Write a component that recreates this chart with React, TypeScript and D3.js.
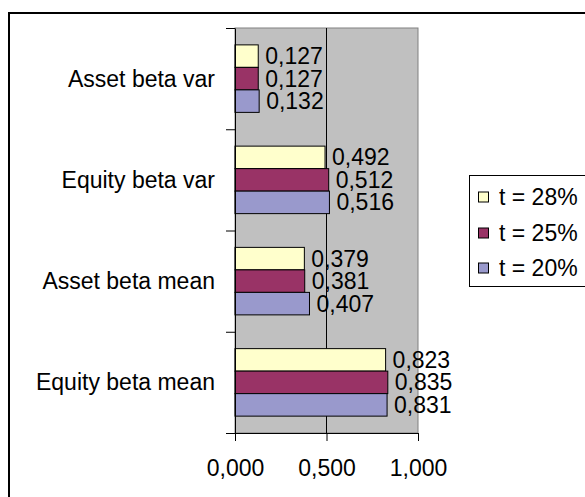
import React, { useEffect, useRef } from 'react';
import * as d3 from 'd3';

// categories top to bottom
const categories = ['Asset beta var', 'Equity beta var', 'Asset beta mean', 'Equity beta mean'];
const seriesNames = ['t = 28%', 't = 25%', 't = 20%'];
const t28 = [0.127, 0.492, 0.379, 0.823];
const t25 = [0.127, 0.512, 0.381, 0.835];
const t20 = [0.132, 0.516, 0.407, 0.831];
const xTicks = [0, 0.5, 1];
const colors = ['#FFFFCC', '#993366', '#9999CC'];

const FONT = '"Liberation Sans", Arial, sans-serif';
const fmt = (v: number) => d3.format('.3f')(v).replace('.', ',');

const App: React.FC = () => {
  const svgRef = useRef<SVGSVGElement>(null);

  useEffect(() => {
    if (!svgRef.current) return;
    const svg = d3.select(svgRef.current);
    svg.selectAll('*').remove();

    const left = 235, right = 418, top = 28, bottom = 433;
    const series = [t28, t25, t20];

    const x = d3.scaleLinear().domain([0, 1]).range([left, right]);
    const y = d3.scaleBand<string>().domain(categories).range([top, bottom]).padding(0);
    const inner = d3.scaleBand<number>()
      .domain([0, 1, 2])
      .range([0, y.bandwidth()])
      .paddingInner(0)
      .paddingOuter(0.75);

    // outer frame
    svg.append('rect')
      .attr('x', 9).attr('y', 13)
      .attr('width', 600).attr('height', 520)
      .attr('fill', 'white')
      .attr('stroke', 'black')
      .attr('stroke-width', 2);

    // plot area
    svg.append('rect')
      .attr('x', left).attr('y', top)
      .attr('width', right - left).attr('height', bottom - top)
      .attr('fill', '#C0C0C0')
      .attr('stroke', '#808080')
      .attr('stroke-width', 1);

    // gridline
    svg.append('line')
      .attr('x1', x(0.5)).attr('x2', x(0.5))
      .attr('y1', top).attr('y2', bottom)
      .attr('stroke', 'black')
      .attr('stroke-width', 1);

    // bars
    series.forEach((vals, si) => {
      const g = svg.append('g');
      g.selectAll('rect')
        .data(vals)
        .join('rect')
        .attr('x', x(0))
        .attr('y', (_, i) => (y(categories[i]) as number) + (inner(si) as number))
        .attr('width', d => x(d) - x(0))
        .attr('height', inner.bandwidth())
        .attr('fill', colors[si])
        .attr('stroke', 'black')
        .attr('stroke-width', 1);
      g.selectAll('text')
        .data(vals)
        .join('text')
        .attr('x', d => x(d) + 7)
        .attr('y', (_, i) => (y(categories[i]) as number) + (inner(si) as number) + inner.bandwidth() / 2)
        .attr('dominant-baseline', 'central')
        .attr('font-family', FONT)
        .attr('font-size', 23)
        .attr('fill', 'black')
        .text(d => fmt(d));
    });

    // left axis: ticks at band boundaries
    const yIdx = d3.scaleLinear().domain([0, categories.length]).range([top, bottom]);
    const yAxis = svg.append('g')
      .attr('transform', `translate(${left},0)`)
      .call(d3.axisLeft(yIdx).tickValues(d3.range(categories.length + 1)).tickSize(9).tickSizeOuter(0).tickFormat(() => ''));
    yAxis.selectAll('line, path').attr('stroke', 'black');

    // category labels
    svg.append('g')
      .selectAll('text')
      .data(categories)
      .join('text')
      .attr('x', 215)
      .attr('y', d => (y(d) as number) + y.bandwidth() / 2)
      .attr('text-anchor', 'end')
      .attr('dominant-baseline', 'central')
      .attr('font-family', FONT)
      .attr('font-size', 23)
      .text(d => d);

    // bottom axis
    const xAxis = svg.append('g')
      .attr('transform', `translate(0,${bottom})`)
      .call(d3.axisBottom(x).tickValues(xTicks).tickSize(8).tickSizeOuter(0).tickPadding(19).tickFormat(d => fmt(d as number)));
    xAxis.selectAll('line, path').attr('stroke', 'black');
    xAxis.selectAll('text')
      .attr('font-family', FONT)
      .attr('font-size', 23)
      .attr('fill', 'black');

    // legend
    const lg = svg.append('g');
    lg.append('rect')
      .attr('x', 469.5).attr('y', 175.5)
      .attr('width', 130).attr('height', 111)
      .attr('fill', 'white')
      .attr('stroke', 'black')
      .attr('stroke-width', 1);
    const rows = [197, 233, 268];
    seriesNames.forEach((name, i) => {
      lg.append('rect')
        .attr('x', 478.5).attr('y', rows[i] - 5)
        .attr('width', 10).attr('height', 10)
        .attr('fill', colors[i])
        .attr('stroke', 'black')
        .attr('stroke-width', 1);
      lg.append('text')
        .attr('x', 499)
        .attr('y', rows[i])
        .attr('dominant-baseline', 'central')
        .attr('font-family', FONT)
        .attr('font-size', 23)
        .text(name);
    });
  }, []);

  return (
    <svg
      ref={svgRef}
      width={585}
      height={497}
      style={{ position: 'absolute', left: 0, top: 0, background: 'white' }}
    />
  );
};

export default App;
